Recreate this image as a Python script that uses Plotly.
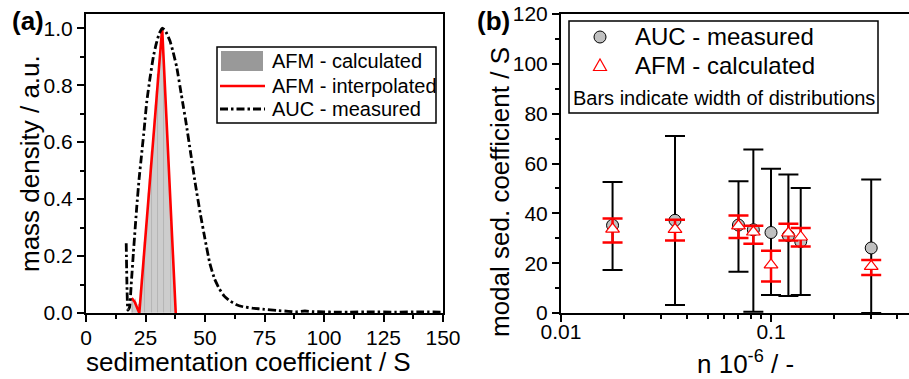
import numpy as np
import plotly.graph_objects as go

# ---------------- Panel (a) data ----------------
afm_hist_x = [19.25, 19.75, 20.25, 20.75, 21.25, 21.75, 22.25, 22.75, 23.25, 23.75,
              24.25, 24.75, 25.25, 25.75, 26.25, 26.75, 27.25, 27.75, 28.25, 28.75,
              29.25, 29.75, 30.25, 30.75, 31.25, 31.75, 32.25, 32.75, 33.25, 33.75,
              34.25, 34.75, 35.25, 35.75, 36.25, 36.75, 37.25]
afm_hist_y = [0.05, 0.05, 0.04, 0.05, 0.04, 0.02, 0.03, 0.08, 0.12, 0.15,
              0.20, 0.25, 0.30, 0.35, 0.42, 0.47, 0.52, 0.57, 0.63, 0.68,
              0.73, 0.78, 0.84, 0.89, 0.95, 1.00, 0.96, 0.87, 0.78, 0.69,
              0.60, 0.50, 0.41, 0.32, 0.22, 0.16, 0.15]

afm_interp_x = [19.2, 20.4, 22.4, 32.0, 37.7]
afm_interp_y = [0.052, 0.040, 0.0, 1.0, 0.0]

auc_x = [16.9, 17.2, 17.6, 18.3, 19.0, 19.9, 21.3, 22.3, 23.4, 24.5, 25.5, 26.8, 28.3,
         29.5, 30.7, 32.0, 33.0, 34.0, 35.3, 36.5, 38.1, 40.0, 41.0, 42.0, 44.0,
         46.0, 48.0, 50.0, 52.0, 54.0, 56.0, 58.0, 60.0, 63.0, 66.0, 70.0, 75.0,
         80.0, 85.0, 88.0, 92.0, 95.0, 100.0, 105.0, 110.0, 120.0, 130.0, 140.0, 150.0]
auc_y = [0.245, 0.10, 0.01, 0.02, 0.10, 0.21, 0.37, 0.47, 0.56, 0.65, 0.74, 0.82, 0.90,
         0.945, 0.98, 1.00, 0.995, 0.98, 0.955, 0.92, 0.864, 0.77, 0.72, 0.67, 0.56,
         0.45, 0.35, 0.26, 0.175, 0.12, 0.085, 0.06, 0.045, 0.03, 0.022, 0.017, 0.013,
         0.009, 0.006, 0.004, 0.007, 0.005, 0.004, 0.003, 0.003, 0.004, 0.003, 0.004, 0.003]

x_ticks_a = [0, 25, 50, 75, 100, 125, 150]
y_ticks_a = [0.0, 0.2, 0.4, 0.6, 0.8, 1.0]

# ---------------- Panel (b) data ----------------
n_vals = [0.0176, 0.0349, 0.0700, 0.0824, 0.1000, 0.1210, 0.1385, 0.3000]
auc_mode = [35.2, 37.2, 35.3, 33.4, 32.3, 31.0, 28.7, 26.1]
auc_top = [52.6, 71.0, 52.9, 65.6, 57.9, 55.6, 50.2, 53.6]
auc_bottom = [17.3, 3.2, 16.6, 0.5, 7.2, 6.8, 7.2, 0.0]
afm_mode = [33.7, 33.6, 35.0, 32.5, 19.3, 32.1, 30.5, 18.7]
afm_top = [37.9, 37.4, 39.1, 35.0, 25.0, 35.8, 34.1, 21.3]
afm_bottom = [28.3, 29.1, 30.1, 27.8, 12.6, 29.1, 26.7, 15.3]

x_ticks_b = [0.01, 0.1]
x_ticklabels_b = ["0.01", "0.1"]
x_minor_b = [0.02, 0.03, 0.04, 0.05, 0.06, 0.07, 0.08, 0.09, 0.2, 0.3, 0.4]
y_ticks_b = [0, 20, 40, 60, 80, 100, 120]

legend_a_labels = ["AFM - calculated", "AFM - interpolated", "AUC - measured"]
legend_b_labels = ["AUC - measured", "AFM - calculated"]
note_b = "Bars indicate width of distributions"

FONT = "Arial, Liberation Sans, Helvetica, sans-serif"
W, H = 909, 379
MT, MB = 14, 66
PB = H - MB  # 313

BAR_COLOR = "#b3b3b3"
SWATCH_COLOR = "#999999"
RED = "#ff0000"
DASHDOT = "8px,3px,2.5px,3px"


def px_x(px):
    return px / W


def px_y(py):
    return (PB - py) / (PB - MT)


fig = go.Figure()

fig.add_trace(go.Bar(
    x=afm_hist_x, y=afm_hist_y, width=0.5, name=legend_a_labels[0],
    marker=dict(color=BAR_COLOR, line=dict(width=0.4, color="rgba(255,255,255,0.45)")),
    xaxis="x", yaxis="y", showlegend=False))
fig.add_trace(go.Scatter(
    x=afm_interp_x, y=afm_interp_y, mode="lines", name=legend_a_labels[1],
    line=dict(color=RED, width=2.6), xaxis="x", yaxis="y", showlegend=False))
fig.add_trace(go.Scatter(
    x=auc_x, y=auc_y, mode="lines", name=legend_a_labels[2],
    line=dict(color="black", width=2.8, dash=DASHDOT, shape="spline", smoothing=0.4),
    xaxis="x", yaxis="y", showlegend=False))

auc_plus = [t - m for t, m in zip(auc_top, auc_mode)]
auc_minus = [m - b for m, b in zip(auc_mode, auc_bottom)]
afm_plus = [t - m for t, m in zip(afm_top, afm_mode)]
afm_minus = [m - b for m, b in zip(afm_mode, afm_bottom)]

fig.add_trace(go.Scatter(
    x=n_vals, y=auc_mode, mode="markers", name=legend_b_labels[0],
    marker=dict(symbol="circle", size=12, color="#c0c0c0", line=dict(color="black", width=1)),
    error_y=dict(type="data", symmetric=False, array=auc_plus, arrayminus=auc_minus,
                 color="black", thickness=2, width=10),
    xaxis="x2", yaxis="y2", showlegend=False))
fig.add_trace(go.Scatter(
    x=n_vals, y=afm_mode, mode="markers", name=legend_b_labels[1],
    marker=dict(symbol="triangle-up", size=12, color="white", line=dict(color=RED, width=1.2)),
    error_y=dict(type="data", symmetric=False, array=afm_plus, arrayminus=afm_minus,
                 color=RED, thickness=2.5, width=10),
    xaxis="x2", yaxis="y2", showlegend=False))

axis_common = dict(showline=True, linecolor="black", linewidth=2, ticks="outside",
                   ticklen=7, tickwidth=2, tickcolor="black", showgrid=False,
                   zeroline=False, tickfont=dict(size=21, color="black", family=FONT))

fig.update_layout(
    width=W, height=H,
    margin=dict(l=0, r=0, t=MT, b=MB, autoexpand=False),
    paper_bgcolor="white", plot_bgcolor="white",
    font=dict(family=FONT, color="black"),
    bargap=0,
    showlegend=False,
    xaxis=dict(domain=[px_x(86), px_x(443)], range=[0, 150], tickvals=x_ticks_a,
               mirror=True, minor=dict(dtick=12.5, tick0=0, ticklen=4, tickwidth=2,
                                       ticks="outside", tickcolor="black"),
               **axis_common),
    yaxis=dict(domain=[0, 1], range=[0, 1.05], tickvals=y_ticks_a, tickformat=".1f",
               mirror=True, minor=dict(dtick=0.1, tick0=0, ticklen=4, tickwidth=2,
                                       ticks="outside", tickcolor="black"),
               **axis_common),
    xaxis2=dict(domain=[px_x(561), 1.0], type="log", range=[-2, np.log10(0.454)],
                tickvals=x_ticks_b, ticktext=x_ticklabels_b, mirror=True, anchor="y2",
                minor=dict(tickvals=x_minor_b, ticklen=4, tickwidth=2, ticks="outside",
                           tickcolor="black"),
                **axis_common),
    yaxis2=dict(domain=[0, 1], range=[0, 120], tickvals=y_ticks_b, anchor="x2",
                minor=dict(dtick=10, tick0=0, ticklen=4, tickwidth=2, ticks="outside",
                           tickcolor="black"),
                **axis_common),
)

try:
    fig.update_layout(xaxis=dict(ticklabelstandoff=-2), xaxis2=dict(ticklabelstandoff=-8))
except Exception:
    pass

# ---------- legend (a), drawn by hand ----------
fig.add_shape(type="rect", xref="paper", yref="paper",
              x0=px_x(217), x1=px_x(436), y0=px_y(123), y1=px_y(47),
              line=dict(color="black", width=1.5), fillcolor="white", layer="above")
fig.add_shape(type="rect", xref="paper", yref="paper",
              x0=px_x(221), x1=px_x(263), y0=px_y(71), y1=px_y(51),
              line=dict(width=0), fillcolor=SWATCH_COLOR, layer="above")
fig.add_shape(type="line", xref="paper", yref="paper",
              x0=px_x(220), x1=px_x(265), y0=px_y(86), y1=px_y(86),
              line=dict(color=RED, width=2.6), layer="above")
fig.add_shape(type="line", xref="paper", yref="paper",
              x0=px_x(220), x1=px_x(265), y0=px_y(109), y1=px_y(109),
              line=dict(color="black", width=2.8, dash=DASHDOT), layer="above")
for lbl, yy in zip(legend_a_labels, [61, 86, 109]):
    fig.add_annotation(text=lbl, x=px_x(270), y=px_y(yy), xref="paper", yref="paper",
                       xanchor="left", yanchor="middle", showarrow=False,
                       font=dict(size=20, family=FONT, color="black"))

# ---------- legend (b), drawn by hand ----------
fig.add_shape(type="rect", xref="paper", yref="paper",
              x0=px_x(569), x1=px_x(878), y0=px_y(113), y1=px_y(21),
              line=dict(color="black", width=1.5), fillcolor="rgba(0,0,0,0)", layer="above")
fig.add_shape(type="circle", xref="paper", yref="paper",
              x0=px_x(594), x1=px_x(606), y0=px_y(43), y1=px_y(31),
              line=dict(color="black", width=1), fillcolor="#c0c0c0", layer="above")
tri = "M {:.5f},{:.5f} L {:.5f},{:.5f} L {:.5f},{:.5f} Z".format(
    px_x(593.5), px_y(70.5), px_x(606.5), px_y(70.5), px_x(600), px_y(59))
fig.add_shape(type="path", xref="paper", yref="paper", path=tri,
              line=dict(color=RED, width=1.2), fillcolor="white", layer="above")
for lbl, yy in zip(legend_b_labels, [37, 65]):
    fig.add_annotation(text=lbl, x=px_x(633), y=px_y(yy), xref="paper", yref="paper",
                       xanchor="left", yanchor="middle", showarrow=False,
                       font=dict(size=24, family=FONT, color="black"))

ann = [
    dict(text="<b>(a)</b>", x=px_x(28), y=px_y(21), size=26, angle=0),
    dict(text="<b>(b)</b>", x=px_x(493), y=px_y(21), size=26, angle=0),
    dict(text="sedimentation coefficient / S", x=px_x(249), y=px_y(362), size=26, angle=0),
    dict(text="mass density / a.u.", x=px_x(30), y=px_y(164), size=26, angle=-90),
    dict(text="modal sed. coefficient / S", x=px_x(500), y=px_y(192), size=26, angle=-90),
    dict(text="n 10<sup>-6</sup> / -", x=px_x(745), y=px_y(362), size=26, angle=0),
    dict(text=note_b, x=px_x(723.5), y=px_y(97.7), size=20, angle=0),
]
for a in ann:
    fig.add_annotation(text=a["text"], x=a["x"], y=a["y"], xref="paper", yref="paper",
                       xanchor="center", yanchor="middle", showarrow=False,
                       textangle=a["angle"], font=dict(size=a["size"], family=FONT, color="black"))

fig.write_html("out.html", config={"displayModeBar": False},
               post_script="document.body.style.margin='0';document.body.style.overflow='hidden';")
